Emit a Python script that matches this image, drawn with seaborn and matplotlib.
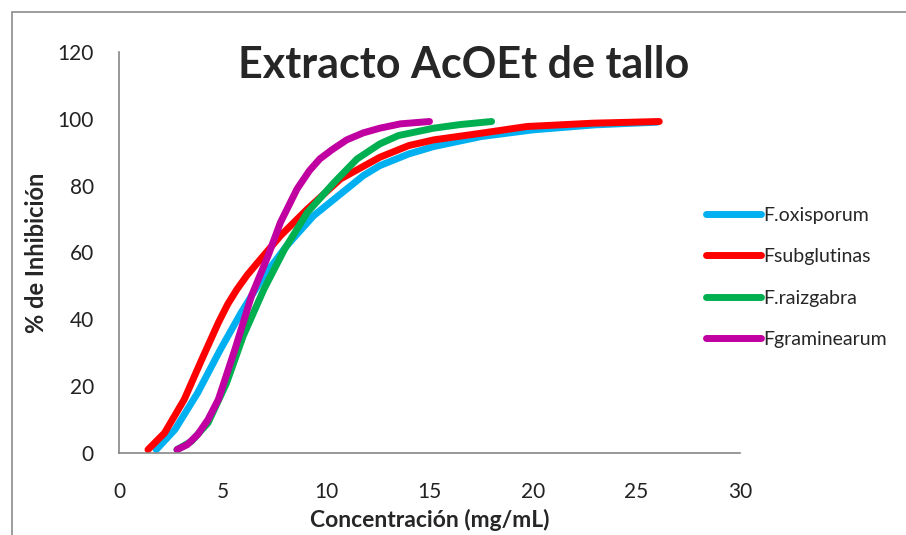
import pandas as pd
import matplotlib.pyplot as plt
import seaborn as sns
from matplotlib.patches import Rectangle

# valores
ox_x = [1.8, 2.7, 3.8, 4.9, 5.9, 7.0, 8.1, 9.4, 11.0, 11.8, 12.6, 14.0, 15.2, 17.5, 20.0, 23.0, 26.0]
ox_y = [1, 7, 18, 31, 42, 53, 62, 71, 79, 83, 86, 89.5, 91.7, 94.7, 96.7, 98.2, 99]

sub_x = [1.4, 2.2, 3.15, 4.0, 4.8, 5.25, 5.7, 6.2, 6.7, 7.8, 9.1, 10.7, 12.6, 14.0, 15.2, 17.5, 19.7, 22.9, 26.1]
sub_y = [1, 6, 16, 28, 39, 44.5, 49, 53.3, 57, 65, 73, 82, 88.5, 92, 93.7, 95.7, 97.7, 98.7, 99.2]

raiz_x = [2.8, 3.5, 4.3, 5.2, 6.0, 7.0, 8.0, 9.1, 10.4, 11.5, 12.6, 13.5, 15.2, 16.5, 18.0]
raiz_y = [1, 3.5, 9, 21, 35, 49, 61, 72, 81, 88, 92.5, 95, 97.2, 98.3, 99.2]

gram_x = [2.8, 3.3, 3.8, 4.3, 4.8, 5.6, 6.4, 7.2, 7.8, 8.6, 9.2, 9.7, 10.3, 11.0, 11.8, 12.6, 13.6, 15.0]
gram_y = [1, 2.5, 5.5, 10, 16, 31, 47, 59, 69, 79, 84.5, 88, 90.8, 93.7, 95.8, 97.2, 98.5, 99.2]

labels = ['F.oxisporum', 'Fsubglutinas', 'F.raizgabra', 'Fgraminearum']
colors = ['#00B0F0', '#FF0000', '#00B050', '#C000A0']

series = [(ox_x, ox_y), (sub_x, sub_y), (raiz_x, raiz_y), (gram_x, gram_y)]
df = pd.concat([pd.DataFrame({'x': sx, 'y': sy, 'serie': lab})
                for (sx, sy), lab in zip(series, labels)], ignore_index=True)

sns.set_style('white')
plt.rcParams['font.family'] = ['Lato', 'DejaVu Sans']

fig = plt.figure(figsize=(9.06, 5.35), dpi=100)
ax = fig.add_axes([119/906, 1-453/535, (740-119)/906, (453-52)/535])

sns.lineplot(data=df, x='x', y='y', hue='serie', palette=colors, sort=False,
             estimator=None, lw=5, solid_capstyle='round', solid_joinstyle='round', ax=ax)

ax.set_xlim(0, 30)
ax.set_ylim(0, 120)
ax.set_xticks(range(0, 31, 5))
ax.set_yticks(range(0, 121, 20))
for side in ['top', 'right']:
    ax.spines[side].set_visible(False)
for side in ['left', 'bottom']:
    ax.spines[side].set_color('#868686')
    ax.spines[side].set_linewidth(1.2)
ax.tick_params(axis='both', direction='out', length=5, width=1.2, color='#868686',
               labelsize=15, labelcolor='#222222')
ax.tick_params(axis='y', pad=13)
ax.tick_params(axis='x', pad=16)
ax.set_xlabel('Concentración (mg/mL)', fontsize=16.5, fontweight='bold')
ax.set_ylabel('% de Inhibición', fontsize=17, fontweight='bold')
ax.xaxis.set_label_coords(0.50, -0.14)
ax.yaxis.set_label_coords(-0.115, 0.50)

fig.text(464/906, 1-65/535, 'Extracto AcOEt de tallo', fontsize=31, fontweight='bold',
         ha='center', va='center')

leg = ax.legend(loc='upper left', bbox_to_anchor=(696/906, 1-197/535),
                bbox_transform=fig.transFigure, frameon=False, fontsize=14,
                borderpad=0, handlelength=2.85, handletextpad=0.12, labelspacing=1.26)
for h in leg.get_lines():
    h.set_linewidth(5)
    h.set_solid_capstyle('round')

fig.patches.append(Rectangle((12/906, -0.1), 1.2, 1.1 - 12/535, transform=fig.transFigure,
                             fill=False, edgecolor='#8c8c8c', lw=1.2, figure=fig))

fig.savefig('out.png', dpi=100)
